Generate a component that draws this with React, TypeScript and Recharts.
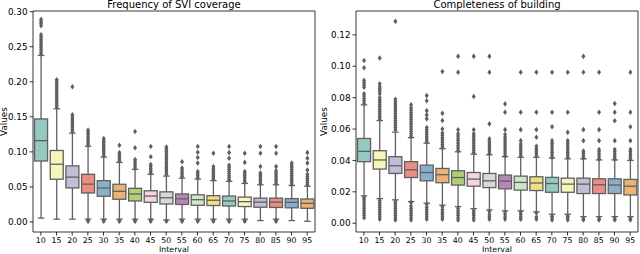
import { Bar, ComposedChart, ReferenceArea, XAxis, YAxis } from "recharts";

const intervals = ["10", "15", "20", "25", "30", "35", "40", "45", "50", "55", "60", "65", "70", "75", "80", "85", "90", "95"];

// Frequency of SVI coverage
const sviLow = [0.0055, 0.004, 0.004, 0.004, 0.004, 0.004, 0.004, 0.004, 0.003, 0.004, 0.004, 0.004, 0.004, 0.004, 0.002, 0.004, 0.002, 0.001];
const sviQ1 = [0.087, 0.061, 0.0486, 0.0414, 0.0367, 0.0324, 0.03, 0.028, 0.0257, 0.025, 0.0238, 0.0235, 0.0228, 0.022, 0.021, 0.0207, 0.0202, 0.0195];
const sviMedian = [0.116, 0.0824, 0.064, 0.054, 0.0486, 0.0438, 0.04, 0.037, 0.0345, 0.033, 0.0318, 0.031, 0.03, 0.029, 0.0283, 0.0283, 0.028, 0.0266];
const sviQ3 = [0.147, 0.102, 0.08, 0.068, 0.059, 0.0538, 0.048, 0.0445, 0.043, 0.04, 0.0388, 0.0375, 0.037, 0.0355, 0.034, 0.034, 0.0333, 0.0328];
const sviHigh = [0.2376, 0.1615, 0.1267, 0.108, 0.0925, 0.085, 0.075, 0.068, 0.0655, 0.0625, 0.0612, 0.059, 0.058, 0.055, 0.053, 0.053, 0.052, 0.051];
const sviFliers = [
  [0.24, 0.243, 0.246, 0.249, 0.252, 0.255, 0.258, 0.261, 0.264, 0.267, 0.28, 0.283, 0.286, 0.289],
  [0.164, 0.167, 0.17, 0.173, 0.176, 0.179, 0.182, 0.185, 0.188, 0.191, 0.194, 0.197, 0.2, 0.203],
  [0.129, 0.132, 0.135, 0.138, 0.141, 0.144, 0.147, 0.15, 0.153, 0.193],
  [0.11, 0.113, 0.116, 0.119, 0.122, 0.125, 0.128, 0.131, 0.001, 0.002],
  [0.095, 0.098, 0.101, 0.104, 0.107, 0.11, 0.113, 0.116, 0.119, 0.001, 0.002],
  [0.087, 0.09, 0.093, 0.096, 0.099, 0.1095, 0.001, 0.002],
  [0.077, 0.08, 0.083, 0.086, 0.089, 0.106, 0.129, 0.001, 0.002],
  [0.07, 0.073, 0.076, 0.079, 0.082, 0.093, 0.1076, 0.001, 0.002],
  [0.068, 0.071, 0.074, 0.077, 0.08, 0.083, 0.086, 0.089, 0.092, 0.095, 0.098, 0.101, 0.104, 0.107, 0.001],
  [0.065, 0.068, 0.071, 0.074, 0.077, 0.086, 0.001, 0.002],
  [0.063, 0.066, 0.069, 0.072, 0.084, 0.092, 0.0995, 0.1076, 0.001, 0.002],
  [0.061, 0.064, 0.067, 0.07, 0.073, 0.076, 0.079, 0.098, 0.001, 0.002],
  [0.06, 0.063, 0.066, 0.069, 0.072, 0.075, 0.078, 0.081, 0.091, 0.099, 0.1076, 0.001, 0.002],
  [0.057, 0.06, 0.063, 0.066, 0.069, 0.072, 0.085, 0.098, 0.001, 0.002],
  [0.055, 0.058, 0.061, 0.064, 0.067, 0.07, 0.079, 0.098, 0.1076],
  [0.055, 0.058, 0.061, 0.064, 0.067, 0.07, 0.073, 0.079, 0.098, 0.1076, 0.001, 0.002],
  [0.054, 0.057, 0.06, 0.063, 0.066, 0.069, 0.072, 0.075, 0.078, 0.081, 0.084],
  [0.053, 0.056, 0.059, 0.062, 0.065, 0.068, 0.074, 0.084, 0.091, 0.099],
];
const sviTicks = [0, 0.05, 0.1, 0.15, 0.2, 0.25, 0.3];

// Completeness of building
const bldLow = [0.0174, 0.0157, 0.0149, 0.0138, 0.0128, 0.0115, 0.0106, 0.0093, 0.0085, 0.0079, 0.0079, 0.0072, 0.0057, 0.0057, 0.0042, 0.0042, 0.0042, 0.0042];
const bldQ1 = [0.0392, 0.0345, 0.0317, 0.0291, 0.027, 0.0258, 0.0243, 0.0236, 0.0227, 0.0219, 0.0211, 0.0208, 0.0197, 0.0197, 0.0189, 0.0189, 0.0189, 0.018];
const bldMedian = [0.0458, 0.0403, 0.0366, 0.034, 0.0323, 0.0309, 0.0291, 0.0281, 0.027, 0.0268, 0.026, 0.0256, 0.0253, 0.0249, 0.0249, 0.0245, 0.0243, 0.0236];
const bldQ3 = [0.054, 0.0462, 0.0424, 0.0392, 0.037, 0.0349, 0.0334, 0.0323, 0.0317, 0.0307, 0.03, 0.0296, 0.0292, 0.0287, 0.0287, 0.0283, 0.0283, 0.0279];
const bldHigh = [0.0754, 0.0654, 0.058, 0.0545, 0.051, 0.0475, 0.0455, 0.044, 0.0436, 0.0424, 0.042, 0.042, 0.0415, 0.041, 0.041, 0.0403, 0.0403, 0.04];
const bldFliers = [
  [0.0765, 0.078, 0.0795, 0.081, 0.0825, 0.0866, 0.088, 0.0895, 0.091, 0.099, 0.1037, 0.0035, 0.005, 0.0065, 0.008, 0.0095, 0.011, 0.0125, 0.014, 0.0155, 0.0165],
  [0.0665, 0.068, 0.0695, 0.071, 0.0725, 0.074, 0.0755, 0.077, 0.0785, 0.08, 0.0825, 0.084, 0.0855, 0.087, 0.0888, 0.1052, 0.0025, 0.004, 0.0055, 0.007, 0.0085, 0.01, 0.0115, 0.013, 0.0145],
  [0.0595, 0.061, 0.0625, 0.064, 0.0655, 0.067, 0.0685, 0.07, 0.0715, 0.073, 0.0745, 0.076, 0.0775, 0.079, 0.1286, 0.002, 0.0035, 0.005, 0.0065, 0.008, 0.0095, 0.011, 0.0125, 0.014],
  [0.0555, 0.057, 0.0585, 0.06, 0.0615, 0.063, 0.0645, 0.066, 0.0675, 0.069, 0.0705, 0.072, 0.0735, 0.0755, 0.002, 0.0035, 0.005, 0.0065, 0.008, 0.0095, 0.011, 0.013],
  [0.052, 0.0535, 0.055, 0.0565, 0.058, 0.0595, 0.061, 0.0665, 0.069, 0.0717, 0.078, 0.0813, 0.0025, 0.004, 0.0055, 0.007, 0.0085, 0.01, 0.012],
  [0.0485, 0.05, 0.0515, 0.053, 0.0545, 0.056, 0.0575, 0.06, 0.0654, 0.07, 0.0967, 0.0025, 0.004, 0.0055, 0.007, 0.0085, 0.0105],
  [0.0465, 0.048, 0.0495, 0.051, 0.0525, 0.054, 0.0555, 0.057, 0.0595, 0.0962, 0.1063, 0.002, 0.0035, 0.005, 0.0065, 0.008, 0.0095],
  [0.045, 0.0465, 0.048, 0.0495, 0.051, 0.0525, 0.054, 0.0555, 0.057, 0.0595, 0.0807, 0.1063, 0.002, 0.0035, 0.005, 0.0065, 0.008],
  [0.0445, 0.046, 0.0475, 0.049, 0.0505, 0.052, 0.0537, 0.0633, 0.0962, 0.1063, 0.0025, 0.004, 0.0055, 0.0075],
  [0.043, 0.0445, 0.046, 0.0475, 0.049, 0.0505, 0.052, 0.0535, 0.055, 0.0565, 0.0596, 0.0707, 0.076, 0.0025, 0.004, 0.0055, 0.007],
  [0.043, 0.0445, 0.046, 0.0475, 0.049, 0.0505, 0.0526, 0.0596, 0.0707, 0.0962, 0.0025, 0.004, 0.0055, 0.007],
  [0.043, 0.0445, 0.046, 0.0475, 0.049, 0.0548, 0.0596, 0.0707, 0.0962, 0.0025, 0.004, 0.0065],
  [0.042, 0.0435, 0.045, 0.0465, 0.048, 0.0495, 0.051, 0.0526, 0.0615, 0.0707, 0.0962, 0.002, 0.0035, 0.0045],
  [0.042, 0.0435, 0.045, 0.0465, 0.048, 0.0495, 0.051, 0.0526, 0.0579, 0.0707, 0.0962, 0.002, 0.0035, 0.0045],
  [0.0415, 0.043, 0.0445, 0.046, 0.0526, 0.0596, 0.0962, 0.1063, 0.002, 0.003],
  [0.041, 0.0425, 0.044, 0.0455, 0.047, 0.0526, 0.0596, 0.0707, 0.0962, 0.002, 0.003],
  [0.041, 0.0425, 0.044, 0.0455, 0.047, 0.0526, 0.0653, 0.0707, 0.0762, 0.002, 0.003],
  [0.041, 0.0425, 0.044, 0.0455, 0.047, 0.0526, 0.0615, 0.0707, 0.0962, 0.002, 0.003],
];
const bldTicks = [0, 0.02, 0.04, 0.06, 0.08, 0.1, 0.12];

// seaborn Set3, desaturated
const palette = ["#96cac1", "#f5f5bc", "#c1bed6", "#ea8e83", "#8aafc9", "#eab375", "#afcf78", "#f6d3e5", "#d9d9d9", "#b588b5", "#cfe6ca", "#ede081"];
const LINE = "#5f5f5f";
const FONT = "DejaVu Sans";

function buildRows(low: number[], q1: number[], med: number[], q3: number[], high: number[], fliers: number[][]) {
  return intervals.map((interval, i) => {
    const lo = Math.min(low[i], ...fliers[i]);
    const hi = Math.max(high[i], ...fliers[i]);
    return {
      interval,
      low: low[i],
      q1: q1[i],
      median: med[i],
      q3: q3[i],
      high: high[i],
      fliers: fliers[i],
      lo,
      hi,
      range: [lo, hi],
      color: palette[i % palette.length],
    };
  });
}

const sviRows = buildRows(sviLow, sviQ1, sviMedian, sviQ3, sviHigh, sviFliers);
const bldRows = buildRows(bldLow, bldQ1, bldMedian, bldQ3, bldHigh, bldFliers);

function BoxShape(props: any) {
  const { x, y, width, height, payload } = props;
  if (!payload || width == null) return null;
  const top = Math.min(y, y + height);
  const bottom = Math.max(y, y + height);
  const py = (v: number) => bottom - ((v - payload.lo) / (payload.hi - payload.lo)) * (bottom - top);
  const cx = x + width / 2;
  const cap = width / 4;
  const yq1 = py(payload.q1);
  const yq3 = py(payload.q3);
  const ymed = py(payload.median);
  const ylo = py(payload.low);
  const yhi = py(payload.high);
  const sw = 1.3;
  return (
    <g>
      <line x1={cx} x2={cx} y1={yq3} y2={yhi} stroke={LINE} strokeWidth={sw} />
      <line x1={cx} x2={cx} y1={yq1} y2={ylo} stroke={LINE} strokeWidth={sw} />
      <line x1={cx - cap} x2={cx + cap} y1={yhi} y2={yhi} stroke={LINE} strokeWidth={sw} />
      <line x1={cx - cap} x2={cx + cap} y1={ylo} y2={ylo} stroke={LINE} strokeWidth={sw} />
      <rect x={x} y={yq3} width={width} height={yq1 - yq3} fill={payload.color} stroke={LINE} strokeWidth={sw} />
      <line x1={x} x2={x + width} y1={ymed} y2={ymed} stroke={LINE} strokeWidth={sw} />
      {payload.fliers.map((v: number, i: number) => {
        const fy = py(v);
        return (
          <polygon
            key={i}
            points={`${cx},${fy - 2.8} ${cx + 2},${fy} ${cx},${fy + 2.8} ${cx - 2},${fy}`}
            fill={LINE}
          />
        );
      })}
    </g>
  );
}

function BoxPanel(props: {
  title: string;
  rows: any[];
  ticks: number[];
  domain: [number, number];
  yWidth: number;
  rightMargin: number;
}) {
  const { title, rows, ticks, domain, yWidth, rightMargin } = props;
  return (
    <ComposedChart
      width={320}
      height={254}
      data={rows}
      margin={{ top: 11, right: rightMargin, bottom: 0, left: 0 }}
      barCategoryGap="10%"
    >
      <XAxis
        dataKey="interval"
        interval={0}
        height={22}
        axisLine={false}
        tickSize={3.5}
        tickMargin={1.9}
        tickLine={{ stroke: "#000", strokeWidth: 0.8 }}
        tick={{ fill: "#000", fontSize: 7.8 }}
        label={{ value: "Interval", position: "insideBottom", offset: 2, fill: "#000", fontSize: 7.8 }}
      />
      <YAxis
        type="number"
        domain={domain}
        ticks={ticks}
        allowDataOverflow
        width={yWidth}
        axisLine={false}
        tickSize={3.5}
        tickMargin={2}
        tickLine={{ stroke: "#000", strokeWidth: 0.8 }}
        tick={{ fill: "#000", fontSize: 8.8 }}
        tickFormatter={(v) => Number(v).toFixed(2)}
        label={{
          value: "Values",
          angle: -90,
          position: "insideLeft",
          offset: 3.5,
          fill: "#000",
          fontSize: 8.8,
          style: { textAnchor: "middle" },
        }}
      />
      <Bar dataKey="range" shape={BoxShape} isAnimationActive={false} />
      <ReferenceArea
        y1={domain[0]}
        y2={domain[1]}
        fill="none"
        fillOpacity={0}
        stroke="#222"
        strokeWidth={0.9}
        ifOverflow="visible"
        label={{ value: title, position: "top", offset: 3.2, fill: "#000", fontSize: 10 }}
      />
    </ComposedChart>
  );
}

export default function App() {
  return (
    <div
      style={{
        position: "absolute",
        left: 0,
        top: 0,
        width: 640,
        height: 254,
        display: "flex",
        background: "#fff",
        fontFamily: FONT,
      }}
    >
      <BoxPanel title="Frequency of SVI coverage" rows={sviRows} ticks={sviTicks} domain={[-0.0143, 0.301]} yWidth={33} rightMargin={5} />
      <BoxPanel title="Completeness of building" rows={bldRows} ticks={bldTicks} domain={[-0.0056, 0.1352]} yWidth={36} rightMargin={2} />
    </div>
  );
}
